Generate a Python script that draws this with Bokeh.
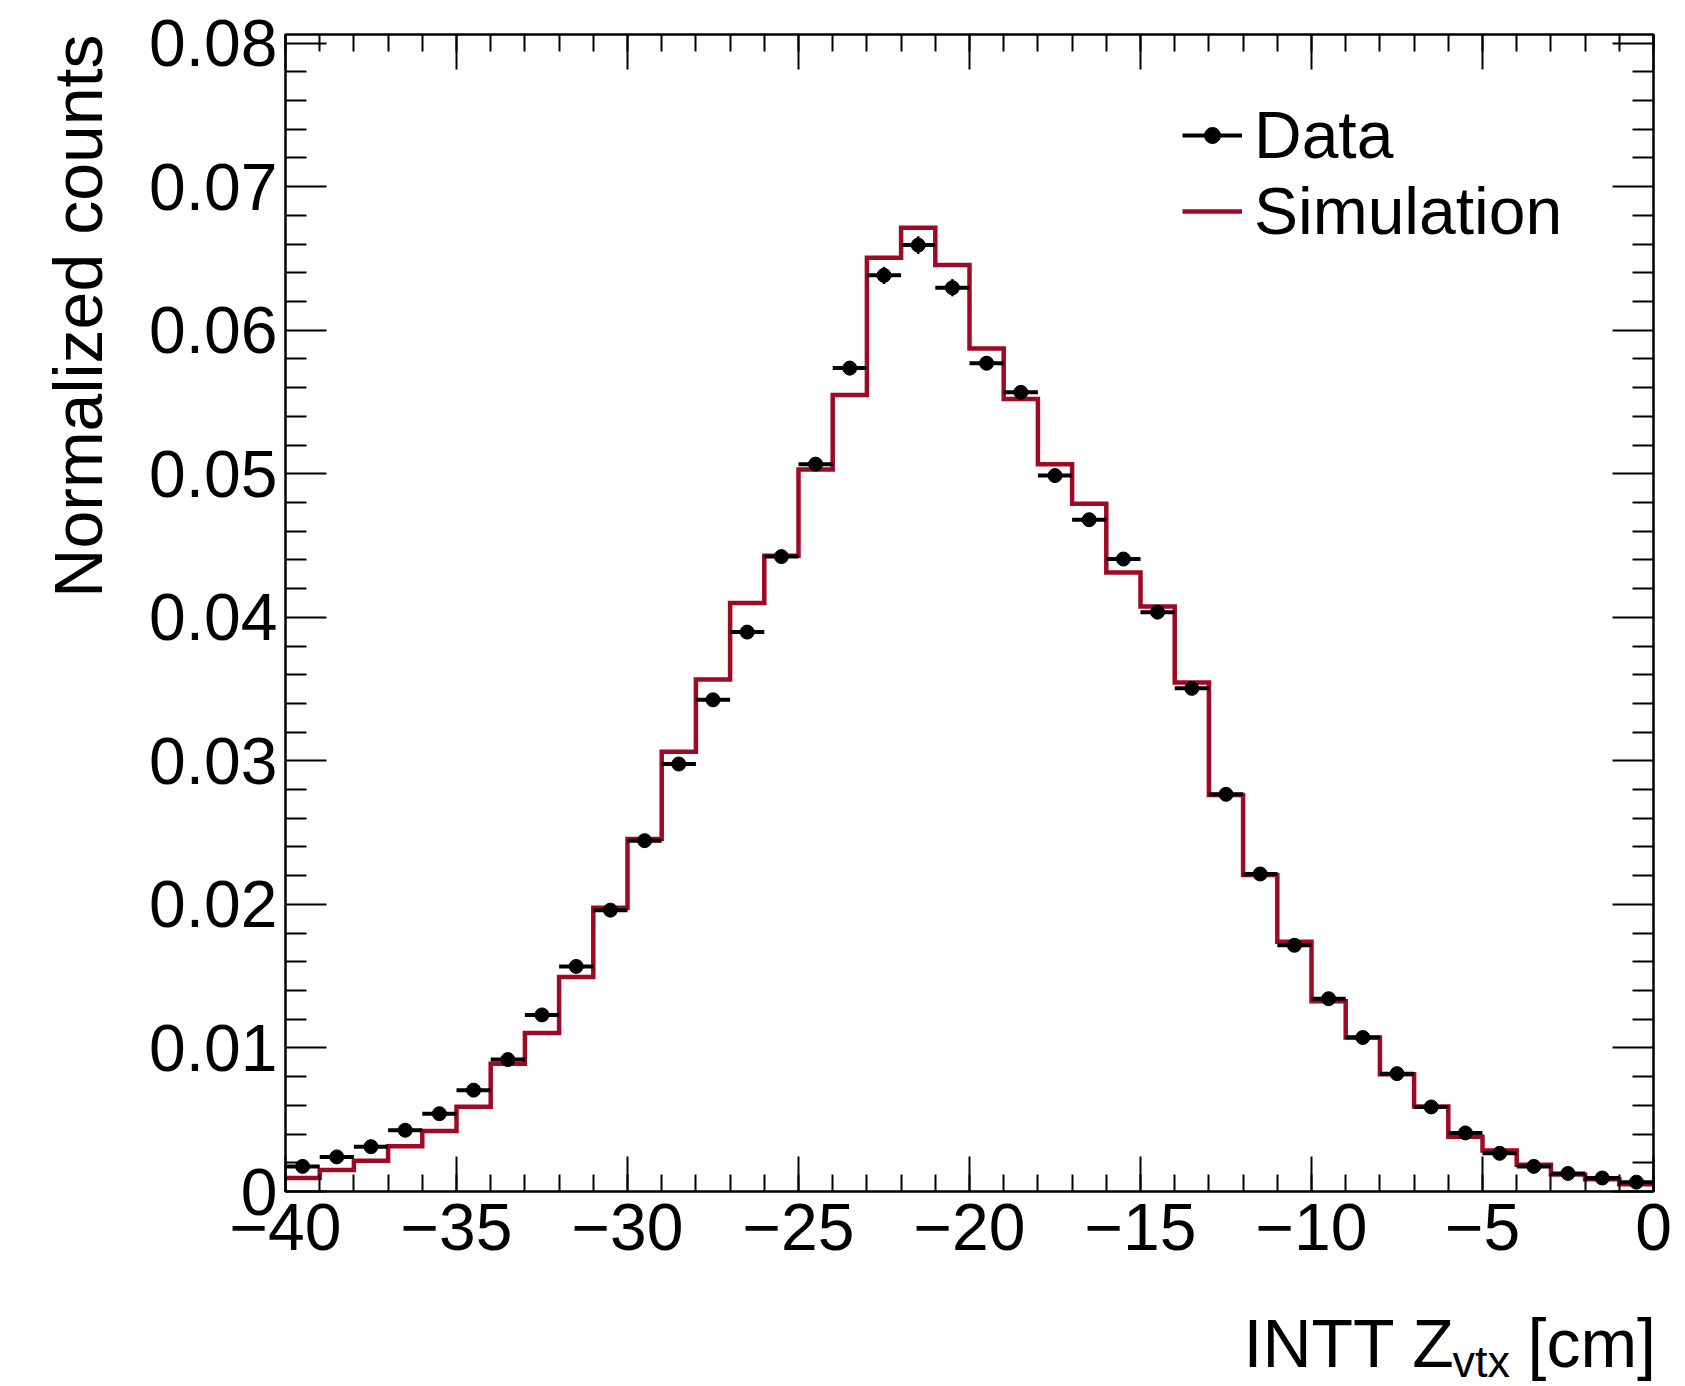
import numpy as np
from bokeh.plotting import figure
from bokeh.layouts import row, column
from bokeh.models import (ColumnDataSource, FixedTicker, LinearAxis, Range1d,
                          Label, Legend, LegendItem)
from bokeh.embed import file_html
from bokeh.resources import INLINE

# ---------------- data ----------------
bin_edges = [-40, -39, -38, -37, -36, -35, -34, -33, -32, -31, -30, -29, -28, -27,
             -26, -25, -24, -23, -22, -21, -20, -19, -18, -17, -16, -15, -14, -13,
             -12, -11, -10, -9, -8, -7, -6, -5, -4, -3, -2, -1, 0]

data_counts = [0.00175, 0.00241, 0.00312, 0.00427, 0.00542, 0.00706, 0.00919, 0.0123,
               0.01568, 0.0196, 0.02444, 0.02978, 0.03425, 0.03897, 0.04423, 0.05067,
               0.05736, 0.06382, 0.06593, 0.06296, 0.0577, 0.05567, 0.04987, 0.0468,
               0.04406, 0.04036, 0.03505, 0.02767, 0.02212, 0.01715, 0.01343, 0.01073,
               0.00821, 0.00589, 0.00408, 0.00266, 0.00175, 0.00126, 0.00094, 0.00065]

data_errors = [0.00011, 0.00013, 0.00015, 0.00017, 0.00019, 0.00021, 0.00024, 0.00027,
               0.0003, 0.00033, 0.00036, 0.00039, 0.00041, 0.00043, 0.00044, 0.00046,
               0.0005, 0.0006, 0.00062, 0.0006, 0.00048, 0.00046, 0.00044, 0.00043,
               0.00042, 0.0004, 0.00038, 0.00034, 0.0003, 0.00027, 0.00024, 0.00021,
               0.00018, 0.00016, 0.00013, 0.00011, 0.00009, 0.00008, 0.00007, 0.00006]

sim_counts = [0.00094, 0.0015, 0.00214, 0.00315, 0.00422, 0.0059, 0.0089, 0.01105,
              0.01495, 0.01977, 0.02456, 0.03064, 0.03567, 0.041, 0.04428, 0.0503,
              0.05549, 0.06505, 0.06713, 0.06455, 0.05873, 0.0552, 0.05067, 0.04791,
              0.04313, 0.04076, 0.03545, 0.02763, 0.02204, 0.01739, 0.01326, 0.01073,
              0.00816, 0.00592, 0.00381, 0.00285, 0.00187, 0.00119, 0.00085, 0.0005]

x_ticks = [-40, -35, -30, -25, -20, -15, -10, -5, 0]
x_tick_labels = ["\u221240", "\u221235", "\u221230", "\u221225", "\u221220",
                 "\u221215", "\u221210", "\u22125", "0"]
x_minor_ticks = bin_edges
y_ticks = [0.0, 0.01, 0.02, 0.03, 0.04, 0.05, 0.06, 0.07, 0.08]
y_tick_labels = ["0", "0.01", "0.02", "0.03", "0.04", "0.05", "0.06", "0.07", "0.08"]
y_minor_ticks = [0.002, 0.004, 0.006, 0.008, 0.012, 0.014, 0.016, 0.018,
                 0.022, 0.024, 0.026, 0.028, 0.032, 0.034, 0.036, 0.038,
                 0.042, 0.044, 0.046, 0.048, 0.052, 0.054, 0.056, 0.058,
                 0.062, 0.064, 0.066, 0.068, 0.072, 0.074, 0.076, 0.078]

x_title = "INTT Z"
x_title_sub = "vtx"
x_title_unit = "[cm]"
y_title = "Normalized counts"

# ---------------- styling / layout ----------------
FONT = "Liberation Sans"
RED = "#9e0a24"
W, H = 1685, 1386
LEFT_W = 130          # strip holding the y title
BOTTOM_H = 96         # strip holding the x title
MAIN_W = W - LEFT_W
MAIN_H = H - BOTTOM_H
FRAME_L, FRAME_R, FRAME_T, FRAME_B = 285, 1653, 34, 1191

lo = np.array(bin_edges[:-1], dtype=float)
hi = np.array(bin_edges[1:], dtype=float)
ctr = (lo + hi) / 2.0
yv = np.array(data_counts)
ev = np.array(data_errors)

src = ColumnDataSource(dict(lo=lo, hi=hi, ctr=ctr, y=yv, ylo=yv - ev, yhi=yv + ev))
sim_src = ColumnDataSource(dict(x=np.array(bin_edges, dtype=float),
                                y=np.array(sim_counts + [sim_counts[-1]])))

p = figure(width=MAIN_W, height=MAIN_H, x_range=Range1d(-40, 0), y_range=Range1d(0, 0.0806),
           output_backend="svg", toolbar_location=None,
           x_axis_type=None, y_axis_type=None,
           min_border_left=FRAME_L - LEFT_W, min_border_right=W - FRAME_R,
           min_border_top=FRAME_T, min_border_bottom=MAIN_H - FRAME_B)
p.background_fill_color = "white"
p.border_fill_color = "white"
p.outline_line_color = "black"
p.outline_line_width = 2.5


def make_axis(ticker, overrides, tick_in, minor_in, label_size, standoff):
    return LinearAxis(ticker=ticker, major_label_overrides=overrides,
                      major_tick_in=tick_in, major_tick_out=0,
                      minor_tick_in=minor_in, minor_tick_out=0,
                      major_tick_line_width=2, minor_tick_line_width=2,
                      major_tick_line_color="black", minor_tick_line_color="black",
                      axis_line_color=None,
                      major_label_standoff=standoff,
                      major_label_text_font=FONT,
                      major_label_text_font_size=label_size,
                      major_label_text_color="black")


xt = FixedTicker(ticks=x_ticks, minor_ticks=x_minor_ticks)
yt = FixedTicker(ticks=y_ticks, minor_ticks=y_minor_ticks)

x_over = dict(zip(x_ticks, x_tick_labels))
y_over = dict(zip(y_ticks, y_tick_labels))
x_blank = {t: "" for t in x_ticks}
y_blank = {t: "" for t in y_ticks}

p.add_layout(make_axis(xt, x_over, 35, 17, "66px", 12), "below")
p.add_layout(make_axis(yt, y_over, 41, 21, "66px", 8), "left")
p.add_layout(make_axis(xt, x_blank, 35, 17, "0px", 0), "above")
p.add_layout(make_axis(yt, y_blank, 41, 21, "0px", 0), "right")

# simulation histogram
sim_r = p.step(x="x", y="y", source=sim_src, mode="after",
               line_color=RED, line_width=4.5, line_join="miter")

# data points with error bars
hbar_r = p.segment(x0="lo", x1="hi", y0="y", y1="y", source=src,
                   line_color="black", line_width=4)
vbar_r = p.segment(x0="ctr", x1="ctr", y0="ylo", y1="yhi", source=src,
                   line_color="black", line_width=2.5)
pts_r = p.scatter(x="ctr", y="y", source=src, size=14, marker="circle",
                  fill_color="black", line_color="black")

legend = Legend(items=[LegendItem(label="Data", renderers=[hbar_r, pts_r]),
                       LegendItem(label="Simulation", renderers=[sim_r])],
                location=(897, 942), glyph_width=60, glyph_height=40,
                label_text_font=FONT, label_text_font_size="66px",
                label_text_color="black", label_standoff=12, label_height=72,
                spacing=0, padding=0, margin=0,
                border_line_color=None, background_fill_alpha=0)
p.add_layout(legend)


def blank_fig(w, h, xr, yr, bl=0, br=0):
    f = figure(width=w, height=h, x_range=Range1d(*xr), y_range=Range1d(*yr),
               output_backend="svg", toolbar_location=None,
               x_axis_type=None, y_axis_type=None, min_border=0)
    f.min_border_left = bl
    f.min_border_right = br
    f.min_border_top = 0
    f.min_border_bottom = 0
    f.outline_line_color = None
    f.background_fill_color = "white"
    f.border_fill_color = "white"
    return f


TITLE_SIZE = 68
SUB_SIZE = 45

# y title strip: 1 unit = 1 px, y measured up from the page bottom
left = blank_fig(LEFT_W, H, (0, LEFT_W), (0, H))
left.add_layout(Label(x=77, y=H - FRAME_T, text=y_title, angle=np.pi / 2,
                      text_align="right", text_baseline="middle",
                      text_font=FONT, text_font_size=f"{TITLE_SIZE}px",
                      text_color="black"))

# x title strip: its frame spans the same page columns as the main frame,
# x in page px, y measured up from the page bottom
bottom = blank_fig(MAIN_W, BOTTOM_H, (FRAME_L, FRAME_R), (0, BOTTOM_H),
                   bl=FRAME_L - LEFT_W, br=W - FRAME_R)
bottom.add_layout(Label(x=1243, y=44, text=x_title, text_align="left",
                        text_baseline="middle", text_font=FONT,
                        text_font_size=f"{TITLE_SIZE}px", text_color="black"))
bottom.add_layout(Label(x=1452, y=25, text=x_title_sub, text_align="left",
                        text_baseline="middle", text_font=FONT,
                        text_font_size=f"{SUB_SIZE}px", text_color="black"))
bottom.add_layout(Label(x=1527, y=44, text=x_title_unit, text_align="left",
                        text_baseline="middle", text_font=FONT,
                        text_font_size=f"{TITLE_SIZE}px", text_color="black"))

page = row(left, column(p, bottom, spacing=0), spacing=0)

open("out.html", "w").write(file_html(page, INLINE))
